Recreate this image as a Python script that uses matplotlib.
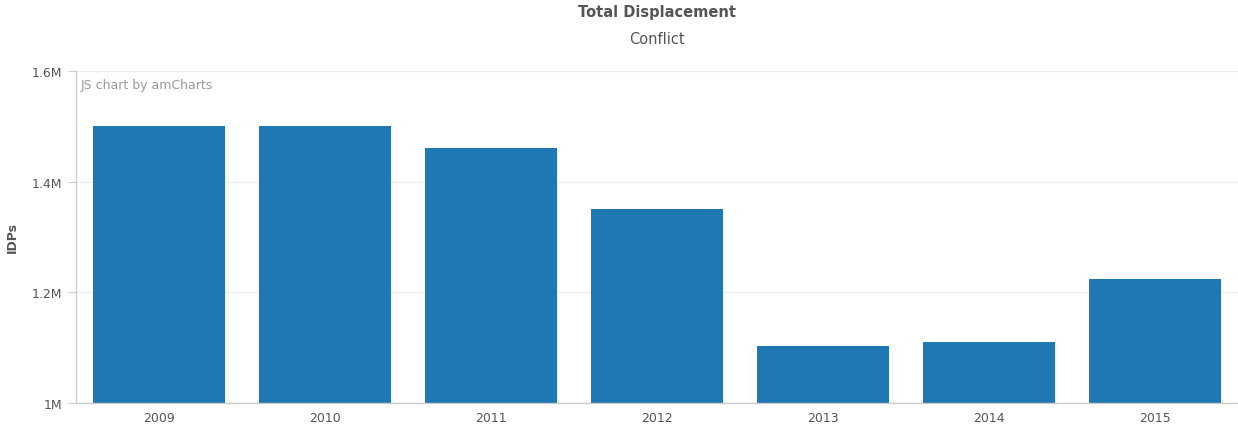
import matplotlib.pyplot as plt
from matplotlib.ticker import FuncFormatter

years = ['2009', '2010', '2011', '2012', '2013', '2014', '2015']
idps = [1500000, 1500000, 1461000, 1350000, 1103000, 1110000, 1224000]

fig = plt.figure(figsize=(12.38, 4.31), dpi=100)
ax = fig.add_axes([76 / 1238, 27 / 431, 1162 / 1238, 332 / 431])

x = range(len(years))
ax.bar(x, idps, width=0.8, color='#1f77b4', zorder=2)

ax.set_xlim(-0.5, len(years) - 0.5)
ax.set_ylim(1000000, 1600000)
ax.set_yticks([1000000, 1200000, 1400000, 1600000])
ax.yaxis.set_major_formatter(FuncFormatter(lambda v, p: f'{v / 1e6:g}M'))
ax.set_xticks(list(x))
ax.set_xticklabels(years)

ax.grid(axis='y', color='#eeeeee', linewidth=1, zorder=0)
for s in ['top', 'right']:
    ax.spines[s].set_visible(False)
for s in ['left', 'bottom']:
    ax.spines[s].set_color('#cccccc')
    ax.spines[s].set_linewidth(1)
ax.tick_params(axis='y', colors='#cccccc', labelcolor='#555555', labelsize=9, length=6, pad=4)
ax.tick_params(axis='x', length=0, labelcolor='#555555', labelsize=9, pad=6)

# y label placed by hand so it stays inside the figure
fig.text(12 / 1238, 1 - 238 / 431, 'IDPs', rotation=90, ha='center', va='center',
         fontsize=9, fontweight='bold', color='#555555')

fig.text(657 / 1238, 1 - 13 / 431, 'Total Displacement', ha='center', va='center',
         fontsize=10.5, fontweight='bold', color='#555555')
fig.text(657 / 1238, 1 - 39 / 431, 'Conflict', ha='center', va='center',
         fontsize=10.5, color='#555555')
ax.text(0.004, 0.96, 'JS chart by amCharts', transform=ax.transAxes, ha='left', va='center',
        fontsize=9, color='#999999')

fig.savefig('out.png', dpi=100)
